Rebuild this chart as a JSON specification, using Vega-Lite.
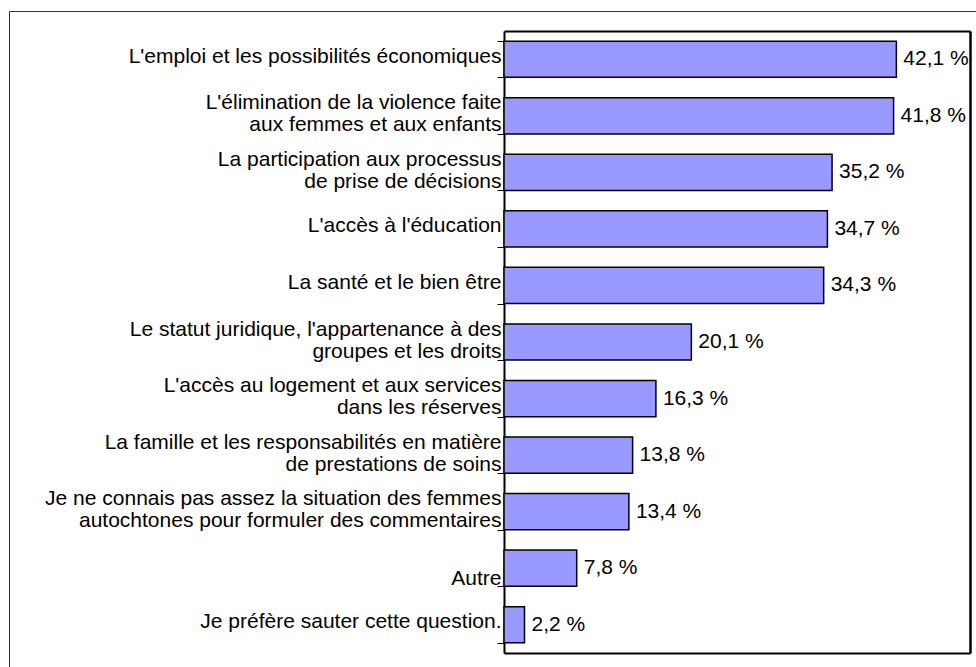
{
  "$schema": "https://vega.github.io/schema/vega-lite/v6.json",
  "autosize": {"type": "none"},
  "padding": {"left": 9, "top": 11, "right": 0, "bottom": 0},
  "width": 980,
  "height": 680,
  "background": "white",
  "config": {
    "view": {"stroke": "#333333", "strokeWidth": 1},
    "font": "Liberation Sans"
  },
  "data": {
    "values": [
      {"cat": "L'emploi et les possibilités économiques", "v": 42.1},
      {"cat": "L'élimination de la violence faite|aux femmes et aux enfants", "v": 41.8},
      {"cat": "La participation aux processus|de prise de décisions", "v": 35.2},
      {"cat": "L'accès à l'éducation", "v": 34.7},
      {"cat": "La santé et le bien être", "v": 34.3},
      {"cat": "Le statut juridique, l'appartenance à des|groupes et les droits", "v": 20.1},
      {"cat": "L'accès au logement et aux services|dans les réserves", "v": 16.3},
      {"cat": "La famille et les responsabilités en matière|de prestations de soins", "v": 13.8},
      {"cat": "Je ne connais pas assez la situation des femmes|autochtones pour formuler des commentaires", "v": 13.4},
      {"cat": "Autre", "v": 7.8},
      {"cat": "Je préfère sauter cette question.", "v": 2.2}
    ]
  },
  "transform": [
    {"calculate": "replace(format(datum.v, '.1f'), '.', ',') + ' %'", "as": "lbl"}
  ],
  "resolve": {"axis": {"x": "independent", "y": "independent"}},
  "layer": [
    {
      "mark": {"type": "bar", "color": "#9999FF", "stroke": "black", "strokeWidth": 1.5},
      "encoding": {
        "y": {
          "field": "cat", "type": "nominal", "sort": null,
          "scale": {"range": [20, 642], "paddingInner": 0.36, "paddingOuter": 0.18},
          "axis": {
            "title": null, "orient": "left", "offset": -495,
            "domain": true, "domainColor": "black", "domainWidth": 2,
            "ticks": true, "tickBand": "extent", "tickSize": 7, "tickColor": "black", "tickWidth": 1,
            "labelExpr": "isValid(datum.value) ? split(datum.value, '|') : ''",
            "labelFont": "Liberation Sans", "labelFontSize": 21, "labelColor": "black",
            "labelLineHeight": 22, "labelLimit": 0, "labelPadding": -4,
            "labelOffset": {
              "condition": [
                {"test": "isValid(datum.value) && indexof(datum.value, '|') >= 0", "value": -13},
                {"test": "datum.value == 'Autre'", "value": 10}
              ],
              "value": -3
            },
            "labelAlign": "right", "labelBaseline": "middle", "grid": false
          }
        },
        "x": {
          "field": "v", "type": "quantitative",
          "scale": {"domain": [0, 50], "range": [495, 961], "nice": false},
          "axis": {
            "title": null, "orient": "bottom", "offset": -38,
            "labels": false, "ticks": false, "grid": false,
            "domain": true, "domainColor": "black", "domainWidth": 2
          }
        }
      }
    },
    {
      "mark": {"type": "text", "align": "left", "baseline": "middle", "dx": 7, "font": "Liberation Sans", "fontSize": 21, "color": "black"},
      "encoding": {
        "y": {
          "field": "cat", "type": "nominal", "sort": null,
          "axis": {
            "title": null, "orient": "right", "offset": -19,
            "labels": false, "ticks": false, "grid": false,
            "domain": true, "domainColor": "black", "domainWidth": 2.5
          }
        },
        "x": {
          "field": "v", "type": "quantitative",
          "axis": {
            "title": null, "orient": "top", "offset": -20,
            "labels": false, "ticks": false, "grid": false,
            "domain": true, "domainColor": "black", "domainWidth": 2
          }
        },
        "text": {"field": "lbl", "type": "nominal"}
      }
    }
  ]
}
